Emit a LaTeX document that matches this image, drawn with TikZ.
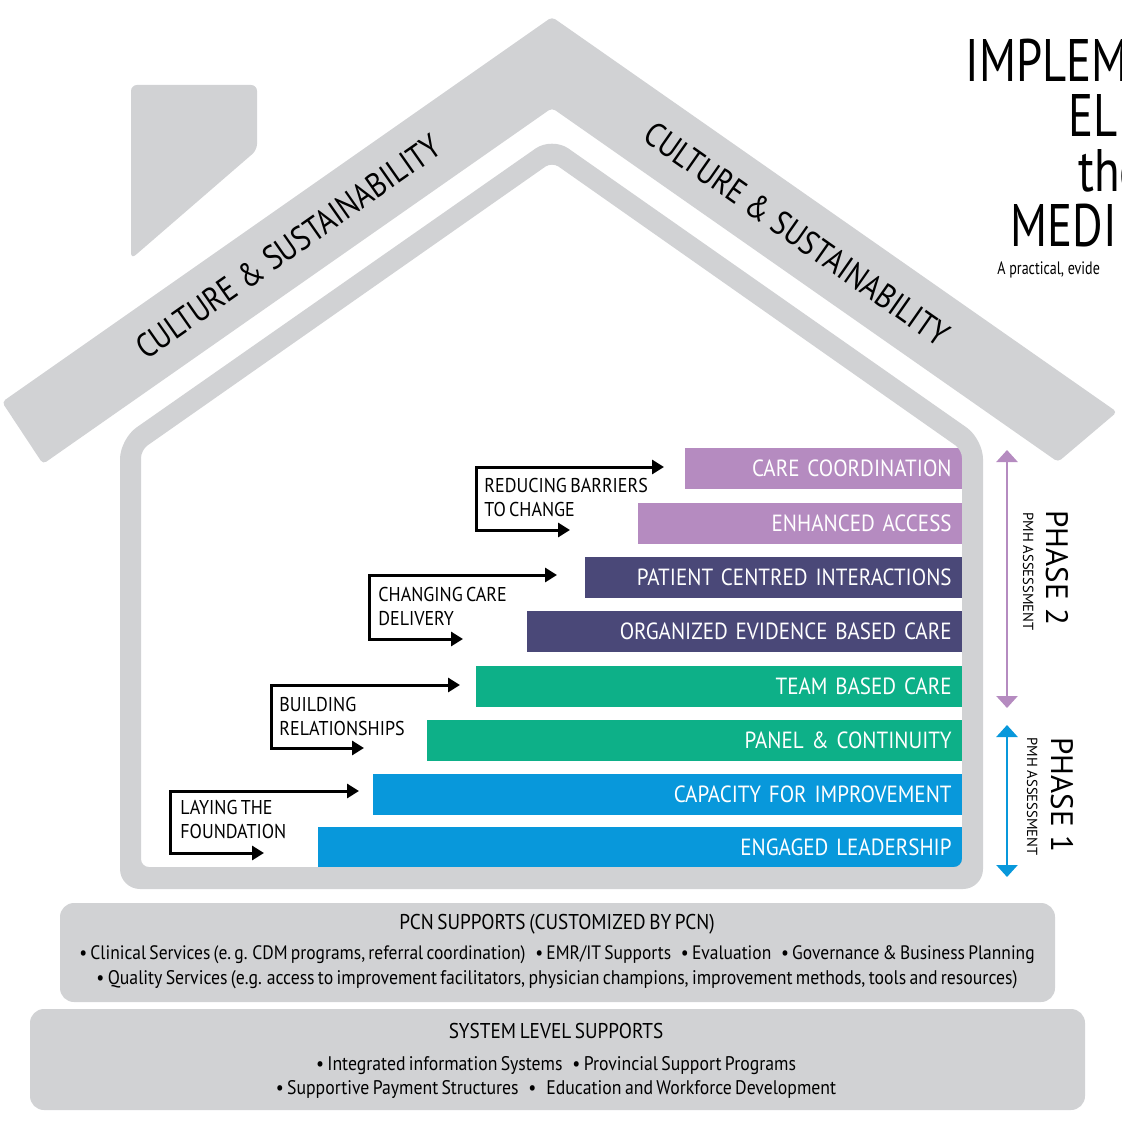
\documentclass[tikz,border=0pt]{standalone}
\usepackage{fontspec}
\setmainfont{PT Sans}[FakeStretch=0.9, WordSpace=0.7]
\newfontfamily\rooffont{PT Sans}[FakeStretch=0.86]
\newfontfamily\titlefont{PT Sans}[FakeStretch=0.78]
\newfontfamily\phasefont{PT Sans}
\usetikzlibrary{positioning, arrows.meta}
\definecolor{housegray}{HTML}{D1D2D4}
\definecolor{barlilac}{HTML}{B58BC0}
\definecolor{barnavy}{HTML}{4A4878}
\definecolor{bargreen}{HTML}{0DB088}
\definecolor{barblue}{HTML}{0898DB}
\tikzset{
    lilacbar/.style={
        rectangle,
        fill=barlilac, % 浅紫色
        text=white,
        anchor=east,
        minimum height=20.5pt,
        inner xsep=5pt,
        inner ysep=0pt,
        align=right,
        font=\fontsize{11.7}{13}\selectfont
    },
    navybar/.style={
        rectangle,
        fill=barnavy, % 深紫色
        text=white,
        anchor=east,
        minimum height=20.5pt,
        inner xsep=5pt,
        inner ysep=0pt,
        align=right,
        font=\fontsize{11.7}{13}\selectfont
    },
    greenbar/.style={
        rectangle,
        fill=bargreen,
        text=white,
        anchor=east,
        minimum height=20.5pt,
        inner xsep=5pt,
        inner ysep=0pt,
        align=right,
        font=\fontsize{11.7}{13}\selectfont
    },
    bluebar/.style={
        rectangle,
        fill=barblue,
        text=white,
        anchor=east,
        minimum height=20.5pt,
        inner xsep=5pt,
        inner ysep=0pt,
        align=right,
        font=\fontsize{11.7}{13}\selectfont
    },
    steptext/.style={
        anchor=west,
        align=left,
        inner sep=0pt,
        font=\fontsize{10}{12}\selectfont
    },
    steparrow/.style={
        line width=1.5pt, % 黑色折线箭头
        {Triangle[length=6pt,width=7pt]}-{Triangle[length=6pt,width=7pt]}
    },
    phasearrow/.style={
        line width=1.3pt,
        {Triangle[length=6pt,width=10.5pt]}-{Triangle[length=6pt,width=10.5pt]}
    },
    phasetitle/.style={
        rotate=-90,
        anchor=base west,
        inner sep=0pt,
        font=\phasefont\fontsize{15.5}{17}\selectfont
    },
    phasesub/.style={
        rotate=-90,
        anchor=base west,
        inner sep=0pt,
        font=\phasefont\fontsize{7.3}{8}\selectfont
    },
    rooftext/.style={
        inner sep=0pt,
        font=\rooffont\fontsize{17}{20}\selectfont
    },
    titletext/.style={
        anchor=base west,
        inner sep=0pt,
        font=\titlefont\fontsize{30}{32}\selectfont
    },
    supportbox/.style={
        rectangle,
        rounded corners=7pt,
        fill=housegray,
        inner sep=0pt
    },
    supporthead/.style={
        anchor=base,
        inner sep=0pt,
        font=\fontsize{10.7}{12}\selectfont
    },
    supportline/.style={
        anchor=base,
        inner sep=0pt,
        font=\fontsize{9.85}{11}\selectfont
    }
}

\begin{document}
\begin{tikzpicture}[x=0.5pt, y=-0.5pt]
    \useasboundingbox (0,0) rectangle (1122,1122);
    \clip (0,0) rectangle (1122,1122);
    % 屋顶和烟囱
    \fill[housegray, rounded corners=2pt] (2,402) -- (552,17) -- (1117,412) -- (1058,462) -- (552,108) -- (43,464) -- cycle;
    \fill[housegray, rounded corners=3pt] (131,85) -- (257,85) -- (257,150) -- (131,259) -- cycle;
    \node[rooftext, rotate=35] (roofl) at (288,247) {CULTURE \& SUSTAINABILITY};
    \node[rooftext, rotate=-35] (roofr) at (797,234) {CULTURE \& SUSTAINABILITY};

    % 标题
    \node[titletext] (title1) at (965,82) {IMPLEM};
    \node[titletext] (title2) at (1068,137) {EL};
    \node[titletext] (title3) at (1078,192) {the};
    \node[titletext] (title4) at (1010,247) {MEDI};
    \node[anchor=base west, inner sep=0pt, font=\titlefont\fontsize{9}{10}\selectfont] (subtitle) at (997,275) {A practical, evide};

    % 八个条块
    \node[lilacbar, minimum width=138.5pt, text width=128.5pt] (cc) at (962,468.5) {CARE COORDINATION};
    \node[lilacbar, minimum width=162pt, text width=152pt] (ea) at (962,523) {ENHANCED ACCESS};
    \node[navybar, minimum width=188.5pt, text width=178.5pt] (pci) at (962,577.5) {PATIENT CENTRED INTERACTIONS};
    \node[navybar, minimum width=217.5pt, text width=207.5pt] (oebc) at (962,631.5) {ORGANIZED EVIDENCE BASED CARE};
    \node[greenbar, minimum width=243pt, text width=233pt] (tbc) at (962,686) {TEAM BASED CARE};
    \node[greenbar, minimum width=267.5pt, text width=257.5pt] (pc) at (962,740) {PANEL \& CONTINUITY};
    \node[bluebar, minimum width=294.5pt, text width=284.5pt] (cfi) at (962,794.5) {CAPACITY FOR IMPROVEMENT};
    \node[bluebar, minimum width=322pt, text width=312pt] (el) at (962,847.5) {ENGAGED LEADERSHIP};

    % 房子墙体
    \fill[housegray, even odd rule, rounded corners=10pt]
        (120,889) -- (120,439) -- (552,137) -- (983,439) -- (983,889) -- cycle
        [rounded corners=4pt] (141,867) -- (141,450) -- (552,162) -- (962,450) -- (962,867) -- cycle;

    % 阶梯箭头
    \coordinate (lay-top) at (359,791);
    \coordinate (lay-bl) at (170,853);
    \coordinate (lay-bot) at (264,853);
    \draw[steparrow] (lay-top) -| (lay-bl) -- (lay-bot);
    \node[steptext] (lay) at (180,819) {LAYING THE\\FOUNDATION};

    \coordinate (build-top) at (460,685);
    \coordinate (build-bl) at (271,748);
    \coordinate (build-bot) at (364,748);
    \draw[steparrow] (build-top) -| (build-bl) -- (build-bot);
    \node[steptext] (build) at (279,716) {BUILDING\\RELATIONSHIPS};

    \coordinate (change-top) at (557,575);
    \coordinate (change-bl) at (369,639);
    \coordinate (change-bot) at (463,639);
    \draw[steparrow] (change-top) -| (change-bl) -- (change-bot);
    \node[steptext] (change) at (378,606) {CHANGING CARE\\DELIVERY};

    \coordinate (reduce-top) at (664,467);
    \coordinate (reduce-bl) at (476,530);
    \coordinate (reduce-bot) at (570,530);
    \draw[steparrow] (reduce-top) -| (reduce-bl) -- (reduce-bot);
    \node[steptext] (reduce) at (484,497) {REDUCING BARRIERS\\TO CHANGE};

    % 阶段
    \coordinate (p2top) at (1007,450);
    \coordinate (p2bot) at (1007,708);
    \coordinate (p1top) at (1007,725);
    \coordinate (p1bot) at (1007,877);
    \draw[phasearrow, barlilac] (p2top) -- (p2bot);
    \draw[phasearrow, barblue] (p1top) -- (p1bot);
    \node[phasetitle] (phase2) at (1046,510) {PHASE 2};
    \node[phasesub] (pmh2) at (1023,512) {PMH ASSESSMENT};
    \node[phasetitle] (phase1) at (1051,737) {PHASE 1};
    \node[phasesub] (pmh1) at (1027,737) {PMH ASSESSMENT};

    % 底部支撑
    \node[supportbox, minimum width=497.5pt, minimum height=49.5pt] (pcnbox) at (557.5,952.5) {};
    \node[supporthead] (pcnhead) at (557,929) {PCN SUPPORTS (CUSTOMIZED BY PCN)};
    \node[supportline, font=\fontsize{9.72}{11}\selectfont] (pcnline1) at (557,959) {• Clinical Services (e.\,g. CDM programs, referral coordination)\enspace • EMR/IT Supports\enspace • Evaluation\enspace • Governance \& Business Planning};
    \node[supportline] (pcnline2) at (557,984) {• Quality Services (e.g. access to improvement facilitators, physician champions, improvement methods, tools and resources)};

    \node[supportbox, minimum width=527.5pt, minimum height=50.5pt] (sysbox) at (557.5,1059.5) {};
    \node[supporthead] (syshead) at (556,1038) {SYSTEM LEVEL SUPPORTS};
    \node[supportline] (sysline1) at (556,1070) {• Integrated information Systems\enspace • Provincial Support Programs};
    \node[supportline] (sysline2) at (556,1094) {• Supportive Payment Structures\enspace •\enspace Education and Workforce Development};
\end{tikzpicture}
\end{document}
